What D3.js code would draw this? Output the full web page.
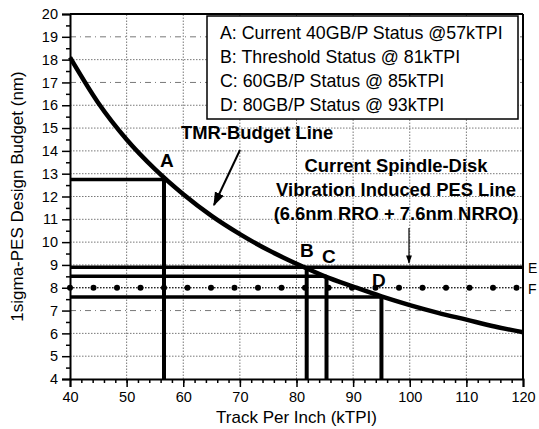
<!DOCTYPE html>
<html>
<head>
<meta charset="utf-8">
<script src="https://cdn.jsdelivr.net/npm/d3@7"></script>
<style>
  body { margin: 0; background: #fff; }
  text { font-family: "Liberation Sans", Arial, sans-serif; fill: #000; }
</style>
</head>
<body>
<div id="chart"></div>
<script>
// TMR budget curve
var tpi = [40, 45, 50, 55, 60, 65, 70, 75, 80, 85, 90, 95, 100, 105, 110, 115, 120];
var budget = [18.1, 16.1, 14.5, 13.2, 12.1, 11.15, 10.35, 9.65, 9.05, 8.5, 8.05, 7.62, 7.24, 6.9, 6.6, 6.3, 6.05];

// status points A-D (x = kTPI, y = nm)
var statusNames = ['A', 'B', 'C', 'D'];
var statusTpi = [56.6, 81.8, 85.3, 95];
var statusPes = [12.75, 8.9, 8.5, 7.6];

// horizontal reference lines E and F
var lineE = 8.9;
var lineF = 8.0;

var legendLines = [
  'A: Current 40GB/P Status @57kTPI',
  'B: Threshold Status @ 81kTPI',
  'C: 60GB/P Status @ 85kTPI',
  'D: 80GB/P Status @ 93kTPI'
];
var xTicks = [40, 50, 60, 70, 80, 90, 100, 110, 120];
var yTicks = d3.range(4, 21);

var W = 539, H = 429;
var svg = d3.select('#chart').append('svg').attr('width', W).attr('height', H);

var x = d3.scaleLinear().domain([40, 120]).range([70, 523]);
var y = d3.scaleLinear().domain([4, 20]).range([379, 14]);

// grid
var grid = svg.append('g').attr('stroke', '#555').attr('stroke-width', 0.8)
  .attr('stroke-dasharray', '1.5,1.5');
grid.selectAll('line.h').data(yTicks.slice(1, -1)).enter().append('line')
  .attr('x1', x(40)).attr('x2', x(120))
  .attr('y1', function(d) { return y(d); }).attr('y2', function(d) { return y(d); })
  .attr('stroke-dasharray', function(d) { return (d == 19 || d == 17 || d == 7) ? '6,4,1,4' : '1.5,1.5'; });
grid.selectAll('line.v').data(xTicks.slice(1, -1)).enter().append('line')
  .attr('y1', y(4)).attr('y2', y(20))
  .attr('x1', function(d) { return x(d); }).attr('x2', function(d) { return x(d); });

// axes
var ax = svg.append('g').attr('transform', 'translate(0,' + y(4) + ')')
  .call(d3.axisBottom(x).tickValues(xTicks).tickSize(8).tickPadding(5));
svg.append('g').attr('transform', 'translate(0,' + y(4) + ')')
  .call(d3.axisBottom(x).tickValues(d3.range(42, 120, 2)).tickSize(4).tickFormat(''))
  .select('.domain').remove();
var ay = svg.append('g').attr('transform', 'translate(' + x(40) + ',0)')
  .call(d3.axisLeft(y).tickValues(yTicks).tickSize(8).tickPadding(4));
svg.append('g').attr('transform', 'translate(' + x(40) + ',0)')
  .call(d3.axisLeft(y).tickValues(d3.range(4.5, 20, 1)).tickSize(4).tickFormat(''))
  .select('.domain').remove();
svg.selectAll('.tick line').attr('stroke', '#000').attr('stroke-width', 1.5);
svg.selectAll('.domain').attr('stroke', '#000').attr('stroke-width', 2);
svg.selectAll('.tick text').style('font-size', '14.5px').style('font-family', '"Liberation Sans", Arial, sans-serif');

// top and right border
svg.append('line').attr('x1', x(40)).attr('x2', x(120)).attr('y1', y(20)).attr('y2', y(20))
  .attr('stroke', '#000').attr('stroke-width', 2);
svg.append('line').attr('x1', x(120)).attr('x2', x(120)).attr('y1', y(20)).attr('y2', y(4))
  .attr('stroke', '#000').attr('stroke-width', 2);

// F: dotted line with dots
svg.append('line').attr('x1', x(40)).attr('x2', x(120)).attr('y1', y(lineF)).attr('y2', y(lineF))
  .attr('stroke', '#000').attr('stroke-width', 1).attr('stroke-dasharray', '1.5,1.5');
svg.append('line').attr('x1', x(40)).attr('x2', x(119)).attr('y1', y(lineF)).attr('y2', y(lineF))
  .attr('stroke', '#000').attr('stroke-width', 6).attr('stroke-linecap', 'round')
  .attr('stroke-dasharray', '0,23.5');

// E line
svg.append('line').attr('x1', x(40)).attr('x2', x(120)).attr('y1', y(lineE)).attr('y2', y(lineE))
  .attr('stroke', '#000').attr('stroke-width', 3.5);

// status drop lines
statusNames.forEach(function(n, i) {
  if (n != 'B') {
    svg.append('line').attr('x1', x(40)).attr('x2', x(statusTpi[i]))
      .attr('y1', y(statusPes[i])).attr('y2', y(statusPes[i]))
      .attr('stroke', '#000').attr('stroke-width', 3.5);
  }
  svg.append('line').attr('x1', x(statusTpi[i])).attr('x2', x(statusTpi[i]))
    .attr('y1', y(statusPes[i])).attr('y2', y(4))
    .attr('stroke', '#000').attr('stroke-width', 4);
});

// TMR budget curve
var line = d3.line()
  .x(function(d, i) { return x(tpi[i]); })
  .y(function(d) { return y(d); })
  .curve(d3.curveMonotoneX);
svg.append('path').datum(budget).attr('d', line)
  .attr('fill', 'none').attr('stroke', '#000').attr('stroke-width', 4.5);

// legend box
svg.append('rect').attr('x', 207).attr('y', 16).attr('width', 311).attr('height', 103)
  .attr('fill', '#fff').attr('stroke', '#000').attr('stroke-width', 1.5);
svg.selectAll('text.leg').data(legendLines).enter().append('text')
  .attr('x', 220).attr('y', function(d, i) { return 39 + i * 24; })
  .style('font-size', '17.8px').text(function(d) { return d; });

// annotations
svg.append('text').attr('x', 181).attr('y', 139).style('font-size', '18.4px')
  .style('font-weight', 'bold').text('TMR-Budget Line');
var noteLines = ['Current Spindle-Disk', 'Vibration Induced PES Line', '(6.6nm RRO + 7.6nm NRRO)'];
svg.selectAll('text.note').data(noteLines).enter().append('text')
  .attr('x', 396).attr('y', function(d, i) { return 172 + i * 24; })
  .attr('text-anchor', 'middle').style('font-size', '18.4px').style('font-weight', 'bold')
  .text(function(d) { return d; });

// arrows
svg.append('defs').append('marker').attr('id', 'ah').attr('viewBox', '0 0 10 10')
  .attr('refX', 9).attr('refY', 5).attr('markerWidth', 7).attr('markerHeight', 7)
  .attr('orient', 'auto').append('path').attr('d', 'M0,1.5L10,5L0,8.5Z').attr('fill', '#000');
svg.append('line').attr('x1', 240).attr('y1', 150).attr('x2', 214).attr('y2', 205)
  .attr('stroke', '#000').attr('stroke-width', 2).attr('marker-end', 'url(#ah)');
svg.append('line').attr('x1', 409).attr('y1', 228).attr('x2', 409).attr('y2', 263)
  .attr('stroke', '#000').attr('stroke-width', 1.2).attr('marker-end', 'url(#ah)');

// point labels
var labelPos = { A: [160, 167], B: [300, 257], C: [322, 263], D: [372, 287] };
statusNames.forEach(function(n) {
  svg.append('text').attr('x', labelPos[n][0]).attr('y', labelPos[n][1])
    .style('font-size', '19px').style('font-weight', 'bold').text(n);
});
svg.append('text').attr('x', 528).attr('y', y(lineE) + 6).style('font-size', '14px').text('E');
svg.append('text').attr('x', 528).attr('y', y(lineF) + 6).style('font-size', '14px').text('F');

// axis titles
svg.append('text').attr('x', x(80)).attr('y', 423).attr('text-anchor', 'middle')
  .style('font-size', '17px').text('Track Per Inch (kTPI)');
svg.append('text').attr('transform', 'translate(23,' + (y(12)) + ') rotate(-90)')
  .attr('text-anchor', 'middle').style('font-size', '17px')
  .text('1sigma-PES Design Budget (nm)');
</script>
</body>
</html>
